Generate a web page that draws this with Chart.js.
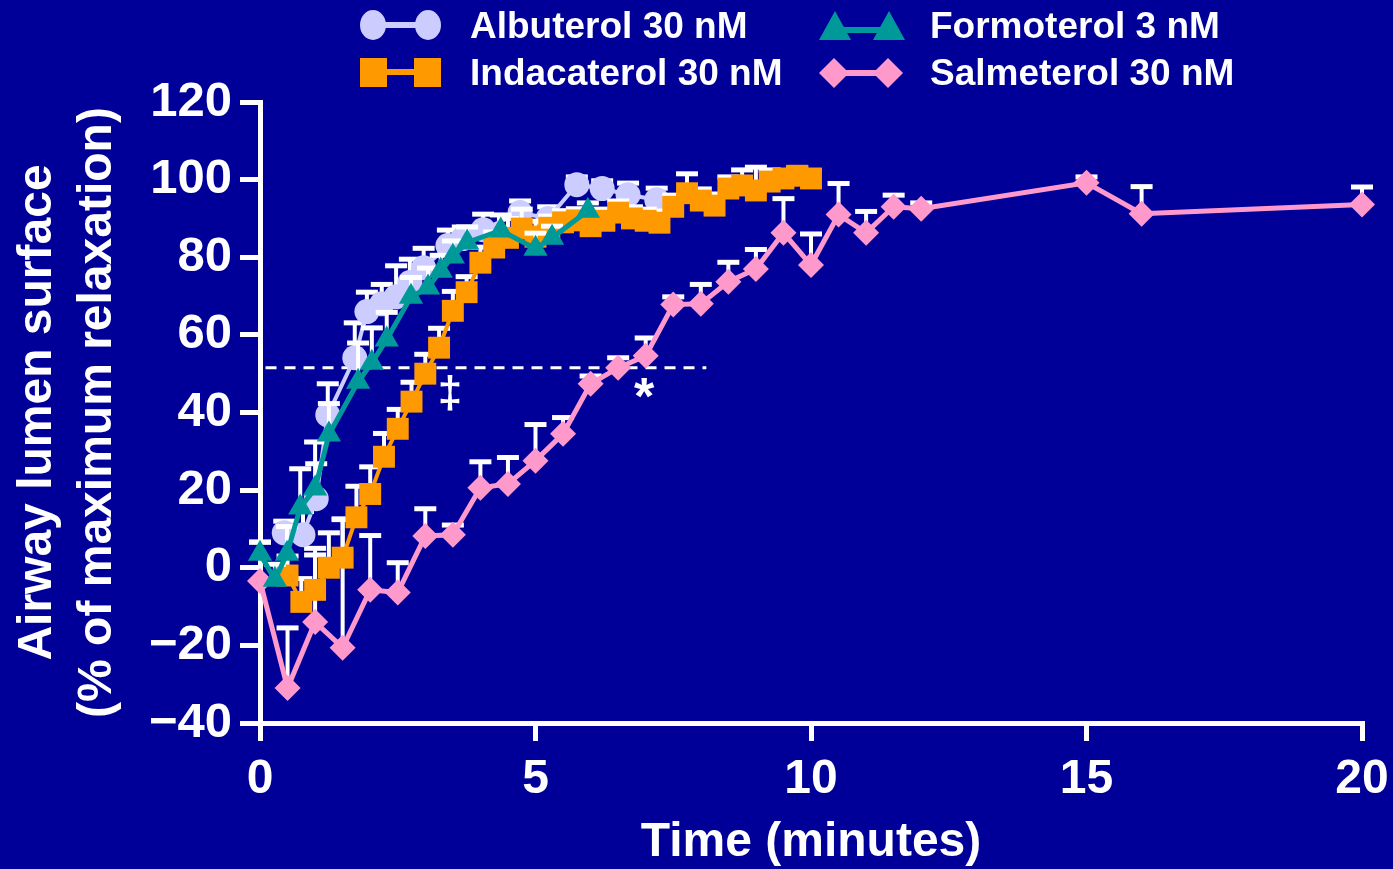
<!DOCTYPE html>
<html><head><meta charset="utf-8">
<script src="https://cdn.jsdelivr.net/npm/chart.js@4.4.0/dist/chart.umd.min.js"></script>
<style>
html,body{margin:0;padding:0;background:#000099;}
#wrap{position:relative;width:1393px;height:869px;background:#000099;overflow:hidden;}
#c{position:absolute;left:0;top:0;}
#icons{position:absolute;left:0;top:0;}
.lt{position:absolute;font-family:"Liberation Sans",Arial,sans-serif;font-weight:bold;font-size:37px;line-height:37px;color:#fff;white-space:nowrap;}
</style></head>
<body>
<div id="wrap">
<canvas id="c" width="1393" height="869"></canvas>
<svg id="icons" width="1393" height="100">
  <line x1="373" y1="25" x2="428" y2="25" stroke="#CCCCFF" stroke-width="6"/>
  <ellipse cx="373" cy="25" rx="13" ry="15" fill="#CCCCFF"/>
  <ellipse cx="428" cy="25" rx="13" ry="15" fill="#CCCCFF"/>
  <line x1="373" y1="72" x2="428" y2="72" stroke="#FF9900" stroke-width="6"/>
  <rect x="360" y="58" width="27" height="29" fill="#FF9900"/>
  <rect x="414" y="58" width="27" height="29" fill="#FF9900"/>
  <line x1="835" y1="30" x2="889" y2="30" stroke="#009999" stroke-width="6"/>
  <polygon points="835,11 851,40 819,40" fill="#009999"/>
  <polygon points="889,11 905,40 873,40" fill="#009999"/>
  <line x1="834" y1="73" x2="888" y2="73" stroke="#FF99CC" stroke-width="6"/>
  <polygon points="834,58 849,73 834,88 819,73" fill="#FF99CC"/>
  <polygon points="888,58 903,73 888,88 873,73" fill="#FF99CC"/>
</svg>
<div class="lt" style="left:470px;top:7px;">Albuterol 30 nM</div>
<div class="lt" style="left:470px;top:54px;">Indacaterol 30 nM</div>
<div class="lt" style="left:930px;top:7px;">Formoterol 3 nM</div>
<div class="lt" style="left:930px;top:54px;">Salmeterol 30 nM</div>
</div>
<script>
// ---- data (minutes, % of maximum relaxation) ----
const albTime = [0.44,0.78,1.02,1.23,1.72,1.94,2.21,2.47,2.72,2.97,3.41,3.68,4.05,4.72,5.23,5.75,6.21,6.68,7.2];
const albMean = [9.0,8.5,17.8,39.4,54.1,66.0,68.0,69.8,73.5,77.3,83.0,84.8,87.1,91.5,90.0,98.7,97.7,96.1,94.8];
const albErr  = [3,6,9,8,9,5,5,8,6,5,4,3,4,3,3,2,2,3,3];

const indTime = [0.5,0.75,1,1.25,1.5,1.75,2,2.25,2.5,2.75,3,3.25,3.5,3.75,4,4.25,4.5,4.75,5,5.25,5.5,5.75,6,6.25,6.5,6.75,7,7.25,7.5,7.75,8,8.25,8.5,8.75,9,9.25,9.5,9.75,10];
const indMean = [-2,-8.8,-5.7,0,2.6,13,19,28.6,35.8,42.8,50,56.7,66.2,71,78.6,82.5,85,87.4,85.3,87.6,89,89.5,88,89.4,91.5,90,89.4,88.9,93,96.5,94.6,93.3,97.7,98.5,97.2,99.5,100.3,101,100.3];
const indErr  = [5,6,9,9,10,8,7,6,5,5,5,5,5,4,4,4,5,5,4,3,3,3,3,3,3,3,3,3,3,5,3,3,3,4,6,3,2,2,2];

const formTime = [0,0.27,0.49,0.73,1.0,1.25,1.78,2.03,2.3,2.74,3.05,3.28,3.5,3.76,4.37,5.0,5.3,5.95];
const formMean = [3.6,-3.1,3.6,15.5,20.4,34.3,47.9,52.8,58.8,69.8,72.2,76.5,80.2,83.8,86.9,82.2,85,92];
const formErr  = [3,4,7,10,12,8,10,9,7,5,5,4,4,4,4,4,3,2];

const salmTime = [0,0.5,1,1.5,2,2.5,3,3.5,4,4.5,5,5.5,6,6.5,7,7.5,8,8.5,9,9.5,10,10.5,11,11.5,12,15,16,20];
const salmMean = [-3.4,-31,-14,-20.6,-5.7,-6.4,8.2,8.5,20.6,21.6,27.6,34.5,47.4,51.5,54.6,67.8,68,73.7,77,86.3,78,91,86.3,93,92.5,99.2,91.2,93.6];
const salmErr  = [10,15.5,19,33,14,7.7,7,2.5,6.7,6.8,9.3,4.2,2,2.6,4.6,2,5,5,5,8.8,8,8,5.5,3,1.5,1.5,7,4.5];

const halfMaxTime = [0.1, 8.1];
const halfMaxLevel = [51.5, 51.5];

const annotText = ['\u2021', '*'];
const annotTime = [3.45, 6.97];
const annotLevel = [44.6, 43.3];
const annotSize = [44, 52];

const yTickStep = 20;
const xTickStep = 5;

// ---- chart ----
const FONT = '"Liberation Sans", Arial, sans-serif';
Chart.defaults.font.family = FONT;
Chart.defaults.color = '#ffffff';

function pts(t, v){ return t.map((x,i)=>({x:x, y:v[i]})); }
function series(label, t, v, e, color, style, r, bw){
  return {label, data:pts(t,v), errors:e, borderColor:color, backgroundColor:color,
    pointBackgroundColor:color, pointBorderColor:color, pointBorderWidth:0,
    pointStyle:style, pointRadius:r, borderWidth:bw, tension:0, clip:false, fill:false};
}

const errorBars = {
  id:'errorBars',
  beforeDatasetDraw(chart, args){
    const ds = chart.data.datasets[args.index];
    if(!ds.errors) return;
    const ctx = chart.ctx, ys = chart.scales.y;
    ctx.save();
    ctx.strokeStyle = '#ffffff';
    args.meta.data.forEach((el,i)=>{
      const top = ys.getPixelForValue(ds.data[i].y + ds.errors[i]);
      ctx.lineWidth = 4;
      ctx.beginPath(); ctx.moveTo(el.x, el.y); ctx.lineTo(el.x, top); ctx.stroke();
      ctx.lineWidth = 5;
      ctx.beginPath(); ctx.moveTo(el.x-11, top); ctx.lineTo(el.x+11, top); ctx.stroke();
    });
    ctx.restore();
  }
};
const annotations = {
  id:'annotations',
  afterDatasetsDraw(chart){
    const ctx = chart.ctx, xs = chart.scales.x, ys = chart.scales.y;
    ctx.save();
    ctx.fillStyle = '#ffffff';
    ctx.textAlign = 'center';
    ctx.textBaseline = 'middle';
    annotText.forEach((s,i)=>{
      ctx.font = 'bold ' + annotSize[i] + 'px ' + FONT;
      ctx.fillText(s, xs.getPixelForValue(annotTime[i]), ys.getPixelForValue(annotLevel[i]));
    });
    ctx.restore();
  }
};

new Chart(document.getElementById('c'), {
  type:'line',
  data:{datasets:[
    series('Formoterol 3 nM', formTime, formMean, formErr, '#009999', 'triangle', 14, 5),
    series('Indacaterol 30 nM', indTime, indMean, indErr, '#FF9900', 'rect', 15.5, 4),
    series('Albuterol 30 nM', albTime, albMean, albErr, '#CCCCFF', 'circle', 12.5, 4),
    series('Salmeterol 30 nM', salmTime, salmMean, salmErr, '#FF99CC', 'rectRot', 13, 5),
    {label:'half', data:pts(halfMaxTime, halfMaxLevel), borderColor:'#ffffff', borderWidth:3,
     borderDash:[11,8], pointRadius:0, tension:0, clip:false}
  ]},
  options:{
    responsive:false, animation:false, events:[],
    layout:{autoPadding:false, padding:{top:102, right:31, left:0, bottom:0}},
    plugins:{legend:{display:false}, tooltip:{enabled:false}},
    scales:{
      x:{type:'linear', min:0, max:20,
        ticks:{stepSize:xTickStep, color:'#fff', padding:10, font:{size:48, weight:'bold'}},
        grid:{drawOnChartArea:false, color:'#fff', lineWidth:5, tickLength:18},
        border:{color:'#fff', width:5},
        title:{display:true, text:'Time (minutes)', color:'#fff', font:{size:48, weight:'bold', lineHeight:1.2}, padding:{top:0, bottom:-3}},
        afterFit(s){ s.height = 146; s.paddingLeft = 0; s.paddingRight = 0; }
      },
      y:{type:'linear', min:-40, max:120,
        ticks:{stepSize:yTickStep, color:'#fff', padding:8, font:{size:49, weight:'bold'},
          callback:(v)=> v<0 ? '\u2212' + Math.abs(v) : String(v)},
        grid:{drawOnChartArea:false, color:'#fff', lineWidth:5, tickLength:20},
        border:{color:'#fff', width:5},
        title:{display:true, text:['Airway lumen surface','(% of maximum relaxation)'], color:'#fff',
          font:{size:48, weight:'bold', lineHeight:1.25}, padding:{top:8, bottom:0}},
        afterFit(s){ s.width = 260; s.paddingTop = 0; s.paddingBottom = 0; }
      }
    }
  },
  plugins:[errorBars, annotations]
});
</script>
</body></html>
